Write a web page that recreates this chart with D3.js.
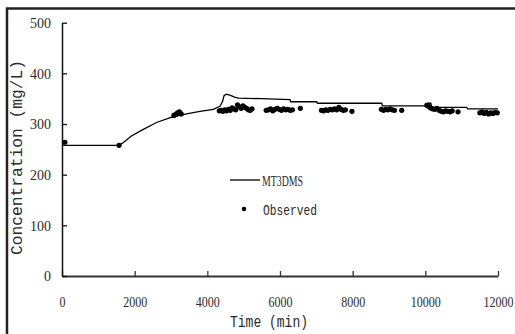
<!DOCTYPE html>
<html>
<head>
<meta charset="utf-8">
<script src="https://cdn.jsdelivr.net/npm/d3@7"></script>
<style>
  body { margin: 0; background: #fff; }
  svg { display: block; }
</style>
</head>
<body>
<div id="chart"></div>
<script>
// model curve (MT3DMS): [time (min), concentration (mg/L)]
const modelSeries = [
  [0, 258], [1570, 258], [1700, 264], [1900, 276], [2200, 288], [2600, 303],
  [3000, 313], [3300, 318], [3500, 321], [3800, 325], [4165, 329], [4349, 335],
  [4420, 345], [4460, 356], [4520, 359], [4620, 357], [4750, 353], [4860, 351],
  [5500, 350], [6276, 348], [6290, 344], [7010, 344], [7030, 341], [8800, 341],
  [8820, 336], [10040, 336], [10060, 341], [10150, 341], [10180, 333],
  [11140, 333], [11160, 330], [12000, 330]
];

// observed points
const observedSeries = [
  [80, 264], [1570, 258],
  [3080, 317], [3130, 319], [3180, 322], [3230, 324], [3280, 320],
  [4330, 326], [4380, 327], [4430, 325], [4480, 328], [4530, 326], [4580, 329],
  [4630, 327], [4680, 332], [4730, 330], [4780, 328], [4830, 338], [4880, 334],
  [4930, 331], [4980, 336], [5030, 333], [5080, 331], [5130, 328], [5180, 327], [5230, 330],
  [5620, 327], [5680, 328], [5740, 330], [5800, 326], [5860, 329], [5920, 331],
  [5980, 329], [6040, 327], [6100, 330], [6160, 328], [6220, 329], [6280, 327],
  [6340, 328], [6560, 331],
  [7140, 327], [7200, 326], [7260, 328], [7320, 327], [7380, 329], [7440, 328],
  [7500, 330], [7560, 328], [7620, 333], [7680, 329], [7740, 327], [7800, 328], [7980, 325],
  [8790, 329], [8850, 327], [8910, 329], [8970, 328], [9030, 330], [9090, 328],
  [9150, 327], [9350, 327],
  [10040, 337], [10090, 335], [10140, 332], [10200, 330], [10260, 329], [10320, 331],
  [10380, 327], [10440, 325], [10500, 324], [10560, 326], [10620, 325], [10680, 324],
  [10740, 326], [10900, 324],
  [11500, 322], [11560, 324], [11620, 321], [11680, 323], [11740, 320], [11800, 322],
  [11860, 321], [11920, 323], [11980, 322]
];

const xTicks = [0, 2000, 4000, 6000, 8000, 10000, 12000];
const yTicks = [0, 100, 200, 300, 400, 500];
const seriesNames = ['MT3DMS', 'Observed'];

const W = 515, H = 334;
const margin = {t: 22.7, r: 17, b: 58, l: 62};
const width = W - margin.l - margin.r;
const height = H - margin.t - margin.b;
const textCol = '#2a2a2a';

const svg = d3.select('#chart').append('svg').attr('width', W).attr('height', H);

// outer frame
svg.append('rect')
  .attr('x', 7).attr('y', 8.5).attr('width', 520).attr('height', 340)
  .attr('fill', 'none').attr('stroke', '#222').attr('stroke-width', 2.5);

const g = svg.append('g').attr('transform', `translate(${margin.l},${margin.t})`);

const x = d3.scaleLinear().domain([0, 12000]).range([0, width]);
const y = d3.scaleLinear().domain([0, 500]).range([height, 0]);

// axes
const xAxis = g.append('g').attr('transform', `translate(0,${height})`)
  .call(d3.axisBottom(x).tickValues(xTicks).tickFormat(d3.format('d'))
    .tickSizeInner(-5).tickSizeOuter(0).tickPadding(20));
xAxis.select('.domain').attr('stroke', '#333').attr('stroke-width', 2.2);
xAxis.selectAll('.tick line').attr('stroke', '#333').attr('stroke-width', 1.3);
xAxis.selectAll('text')
  .attr('font-family', '"Liberation Serif", serif').attr('font-size', 15).attr('fill', textCol)
  .attr('textLength', d => String(d).length * 6.0).attr('lengthAdjust', 'spacingAndGlyphs');

const yAxis = g.append('g')
  .call(d3.axisLeft(y).tickValues(yTicks)
    .tickSizeInner(-5).tickSizeOuter(0).tickPadding(11));
yAxis.select('.domain').attr('stroke', '#111').attr('stroke-width', 1.5);
yAxis.selectAll('.tick line').attr('stroke', '#111').attr('stroke-width', 1.3);
yAxis.selectAll('text')
  .attr('font-family', '"Liberation Serif", serif').attr('font-size', 15).attr('fill', textCol)
  .attr('textLength', d => String(d).length * 7).attr('lengthAdjust', 'spacingAndGlyphs');

// axis titles
svg.append('text')
  .attr('x', 269).attr('y', 326.5).attr('text-anchor', 'middle')
  .attr('font-family', '"Liberation Mono", monospace').attr('font-size', 16).attr('fill', textCol)
  .attr('textLength', 78).attr('lengthAdjust', 'spacingAndGlyphs')
  .text('Time (min)');

svg.append('text')
  .attr('transform', 'translate(22,157.5) rotate(-90)').attr('text-anchor', 'middle')
  .attr('font-family', '"Liberation Mono", monospace').attr('font-size', 16).attr('fill', textCol)
  .attr('textLength', 195).attr('lengthAdjust', 'spacingAndGlyphs')
  .text('Concentration (mg/L)');

// model line
const line = d3.line().x(d => x(d[0])).y(d => y(d[1]));
g.append('path').datum(modelSeries)
  .attr('d', line).attr('fill', 'none').attr('stroke', '#000').attr('stroke-width', 1.3);

// observed points
g.append('g').selectAll('circle').data(observedSeries).join('circle')
  .attr('cx', d => x(d[0])).attr('cy', d => y(d[1]))
  .attr('r', 2.6).attr('fill', '#000');

// legend
const leg = svg.append('g');
leg.append('line').attr('x1', 230).attr('x2', 260).attr('y1', 180).attr('y2', 180)
  .attr('stroke', '#000').attr('stroke-width', 1.3);
leg.append('text').attr('x', 262).attr('y', 185.7)
  .attr('font-family', '"Liberation Serif", serif').attr('font-size', 14.5).attr('fill', textCol)
  .attr('textLength', 41).attr('lengthAdjust', 'spacingAndGlyphs')
  .text(seriesNames[0]);
leg.append('circle').attr('cx', 244).attr('cy', 209).attr('r', 2.3).attr('fill', '#000');
leg.append('text').attr('x', 263).attr('y', 215)
  .attr('font-family', '"Liberation Mono", monospace').attr('font-size', 15).attr('fill', textCol)
  .attr('textLength', 54).attr('lengthAdjust', 'spacingAndGlyphs')
  .text(seriesNames[1]);
</script>
</body>
</html>
